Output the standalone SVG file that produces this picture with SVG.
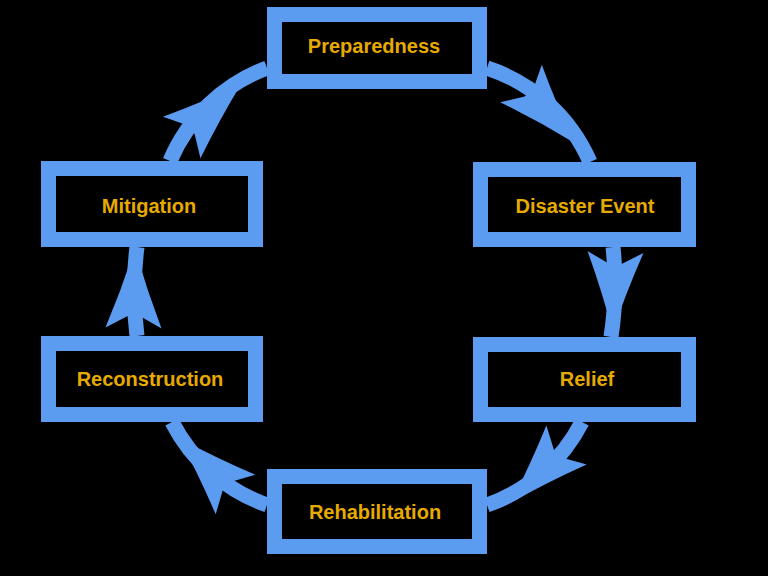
<svg xmlns="http://www.w3.org/2000/svg" xmlns:xlink="http://www.w3.org/1999/xlink" width="768" height="576" viewBox="0 0 768 576">
  <style>
    .box { fill: #000000; stroke: #5b9bf0; stroke-width: 15; }
    .lbl { font-family: "Liberation Sans", Arial, sans-serif; font-weight: bold; font-size: 20px; fill: #e6aa00; text-anchor: middle; }
    .conn { fill: none; stroke: #5b9bf0; stroke-width: 15; }
    .head { fill: #5b9bf0; }
  </style>
  <defs>
    <path id="ah" d="M80,0 Q40,-12 0,-28 L12,-6 L12,6 L0,28 Q40,12 80,0 Z"/>
  </defs>
  <rect x="0" y="0" width="768" height="576" fill="#000000"/>

  <g id="connectors">
    <path class="conn" d="M487,68 A170,170 0 0 1 590,162"/>
    <path class="conn" d="M613,247 A350,350 0 0 1 611,337"/>
    <path class="conn" d="M582,422 A170,170 0 0 1 487,505"/>
    <path class="conn" d="M267,505 A170,170 0 0 1 172,422"/>
    <path class="conn" d="M137,336 A350,350 0 0 1 137,247"/>
    <path class="conn" d="M170,161 A170,170 0 0 1 267,68"/>
    <use class="head" xlink:href="#ah" href="#ah" transform="translate(521,83.5) rotate(48)"/>
    <use class="head" xlink:href="#ah" href="#ah" transform="translate(615.5,252) rotate(92)"/>
    <use class="head" xlink:href="#ah" href="#ah" transform="translate(566.5,445) rotate(134)"/>
    <use class="head" xlink:href="#ah" href="#ah" transform="translate(235.5,494.5) rotate(225)"/>
    <use class="head" xlink:href="#ah" href="#ah" transform="translate(133.5,328) rotate(271)"/>
    <use class="head" xlink:href="#ah" href="#ah" transform="translate(181.7,137.5) rotate(-42)"/>
  </g>

  <g id="preparedness">
    <rect class="box" x="274.5" y="14.5" width="205" height="67"/>
    <text class="lbl" x="374" y="53">Preparedness</text>
  </g>
  <g id="disaster-event">
    <rect class="box" x="480.5" y="169.5" width="208" height="70"/>
    <text class="lbl" x="585" y="213">Disaster Event</text>
  </g>
  <g id="relief">
    <rect class="box" x="480.5" y="344.5" width="208" height="70"/>
    <text class="lbl" x="587" y="386">Relief</text>
  </g>
  <g id="rehabilitation">
    <rect class="box" x="274.5" y="476.5" width="205" height="70"/>
    <text class="lbl" x="375" y="519">Rehabilitation</text>
  </g>
  <g id="reconstruction">
    <rect class="box" x="48.5" y="343.5" width="207" height="71"/>
    <text class="lbl" x="150" y="386">Reconstruction</text>
  </g>
  <g id="mitigation">
    <rect class="box" x="48.5" y="168.5" width="207" height="71"/>
    <text class="lbl" x="149" y="213">Mitigation</text>
  </g>
</svg>
